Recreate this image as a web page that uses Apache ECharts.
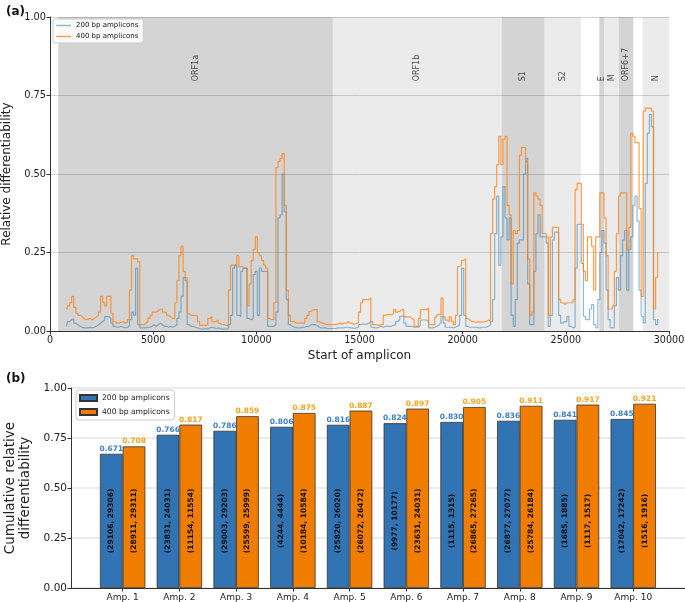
<!DOCTYPE html>
<html><head><meta charset="utf-8">
<script src="https://cdn.jsdelivr.net/npm/echarts@6/dist/echarts.min.js"></script>
<style>
html,body{margin:0;padding:0;background:#fff;}
#a{position:absolute;left:0;top:0;width:685px;height:362px;}
#b{position:absolute;left:0;top:360px;width:685px;height:242px;}
</style></head><body>
<div id="a"></div><div id="b"></div>
<script>
// ---------- panel (a) data ----------
const ampStart = [800,900,
1000,1100,1200,1300,1400,1500,1600,1700,1800,1900,
2000,2100,2200,2300,2400,2500,2600,2700,2800,2900,
3000,3100,3200,3300,3400,3500,3600,3700,3800,3900,
4000,4100,4200,4300,4400,4500,4600,4700,4800,4900,
5000,5100,5200,5300,5400,5500,5600,5700,5800,5900,
6000,6100,6200,6300,6400,6500,6600,6700,6800,6900,
7000,7100,7200,7300,7400,7500,7600,7700,7800,7900,
8000,8100,8200,8300,8400,8500,8600,8700,8800,8900,
9000,9100,9200,9300,9400,9500,9600,9700,9800,9900,
10000,10100,10200,10300,10400,10500,10600,10700,10800,10900,
11000,11100,11200,11300,11400,11500,11600,11700,11800,11900,
12000,12100,12200,12300,12400,12500,12600,12700,12800,12900,
13000,13100,13200,13300,13400,13500,13600,13700,13800,13900,
14000,14100,14200,14300,14400,14500,14600,14700,14800,14900,
15000,15100,15200,15300,15400,15500,15600,15700,15800,15900,
16000,16100,16200,16300,16400,16500,16600,16700,16800,16900,
17000,17100,17200,17300,17400,17500,17600,17700,17800,17900,
18000,18100,18200,18300,18400,18500,18600,18700,18800,18900,
19000,19100,19200,19300,19400,19500,19600,19700,19800,19900,
20000,20100,20200,20300,20400,20500,20600,20700,20800,20900,
21000,21100,21200,21300,21400,21500,21600,21700,21800,21900,
22000,22100,22200,22300,22400,22500,22600,22700,22800,22900,
23000,23100,23200,23300,23400,23500,23600,23700,23800,23900,
24000,24100,24200,24300,24400,24500,24600,24700,24800,24900,
25000,25100,25200,25300,25400,25500,25600,25700,25800,25900,
26000,26100,26200,26300,26400,26500,26600,26700,26800,26900,
27000,27100,27200,27300,27400,27500,27600,27700,27800,27900,
28000,28100,28200,28300,28400,28500,28600,28700,28800,28900,
29000,29100,29200,29300,29400,29500];

const diff200 = [.015,.03,
.036,.038,.025,.02,.015,.012,.01,.01,.01,.012,
.01,.012,.015,.02,.025,.03,.035,.046,.046,.04,
.025,.015,.012,.012,.015,.012,.01,.012,.015,.036,
.06,.05,.2,.02,.01,.01,.01,.012,.012,.015,
.02,.015,.02,.025,.02,.015,.015,.012,.015,.012,
.015,.02,.04,.06,.11,.17,.16,.02,.015,.015,
.012,.01,.008,.006,.006,.008,.006,.01,.012,.01,
.008,.01,.008,.006,.006,.006,.008,.02,.05,.2,
.21,.05,.046,.19,.2,.2,.04,.036,.04,.18,
.19,.05,.2,.19,.19,.19,.015,.015,.015,.02,
.06,.36,.37,.5,.38,.1,.02,.015,.012,.01,
.01,.01,.012,.012,.015,.015,.02,.02,.02,.018,
.012,.01,.01,.01,.008,.008,.008,.008,.008,.01,
.01,.01,.01,.012,.012,.01,.01,.008,.01,.012,
.02,.022,.022,.022,.025,.03,.012,.01,.01,.012,
.015,.012,.015,.015,.015,.015,.018,.02,.03,.036,
.047,.047,.025,.015,.015,.015,.012,.012,.012,.018,
.035,.035,.035,.03,.01,.01,.012,.015,.02,.026,
.047,.025,.012,.012,.012,.01,.012,.015,.02,.05,
.2,.05,.015,.012,.012,.012,.012,.01,.01,.012,
.012,.012,.015,.02,.03,.1,.31,.43,.21,.3,
.46,.36,.29,.36,.05,.015,.1,.28,.29,.29,
.5,.55,.15,.02,.02,.19,.31,.37,.3,.3,
.3,.28,.015,.05,.29,.315,.315,.05,.025,.03,
.03,.047,.015,.01,.012,.2,.34,.34,.215,.047,
.036,.036,.07,.084,.02,.01,.1,.25,.32,.28,
.13,.036,.01,.01,.08,.17,.13,.24,.29,.32,
.13,.26,.3,.4,.43,.35,.13,.047,.026,.47,
.63,.69,.65,.036,.02,.036];

const diff400 = [.068,.08,
.09,.11,.075,.057,.05,.046,.04,.036,.038,.04,
.036,.04,.045,.05,.06,.11,.09,.08,.11,.11,
.057,.03,.025,.025,.028,.03,.025,.028,.036,.13,
.24,.23,.23,.22,.02,.02,.025,.03,.04,.05,
.06,.06,.065,.07,.07,.06,.057,.05,.045,.04,
.04,.09,.16,.24,.27,.19,.17,.055,.05,.05,
.05,.048,.03,.018,.02,.018,.02,.04,.046,.03,
.03,.035,.025,.02,.02,.018,.02,.13,.21,.21,
.21,.24,.205,.205,.2,.2,.08,.15,.225,.26,
.3,.25,.24,.225,.21,.2,.04,.036,.036,.09,
.52,.54,.55,.565,.4,.13,.05,.03,.03,.025,
.025,.025,.025,.025,.04,.05,.062,.068,.068,.068,
.03,.025,.025,.022,.02,.02,.02,.02,.02,.022,
.025,.022,.025,.025,.03,.025,.025,.02,.025,.025,
.06,.09,.1,.1,.1,.105,.03,.02,.02,.018,
.02,.02,.05,.052,.052,.052,.055,.068,.06,.063,
.068,.068,.045,.045,.045,.04,.035,.015,.015,.04,
.068,.068,.068,.073,.02,.02,.02,.045,.052,.052,
.105,.045,.035,.03,.045,.03,.02,.05,.205,.21,
.225,.23,.04,.035,.03,.03,.028,.03,.028,.028,
.03,.03,.035,.03,.31,.42,.46,.53,.62,.53,
.61,.62,.4,.37,.15,.32,.31,.32,.56,.585,
.585,.54,.23,.05,.06,.44,.43,.42,.4,.31,
.31,.3,.05,.3,.33,.33,.33,.1,.09,.085,
.09,.09,.09,.09,.1,.45,.47,.47,.34,.19,
.16,.3,.3,.27,.13,.3,.3,.44,.44,.36,
.24,.07,.07,.08,.19,.31,.43,.44,.44,.44,
.26,.33,.63,.62,.6,.6,.39,.11,.7,.71,
.71,.71,.7,.07,.17,.25];

const geneNames = ['ORF1a','ORF1b','S1','S2','E','M','ORF6+7','N'];
const geneStart = [400,13700,21880,23960,26620,26850,27570,28720];
const geneEnd   = [13700,21850,23960,25730,26850,27570,28270,30000];
const geneLabelY = 0.795;

// ---------- panel (b) data ----------
const ampNames = ['Amp. 1','Amp. 2','Amp. 3','Amp. 4','Amp. 5','Amp. 6','Amp. 7','Amp. 8','Amp. 9','Amp. 10'];
const cum200 = [0.671,0.766,0.786,0.806,0.816,0.824,0.830,0.836,0.841,0.845];
const cum400 = [0.708,0.817,0.859,0.875,0.887,0.897,0.905,0.911,0.917,0.921];
const range200 = ['(29106, 29306)','(23831, 24031)','(29003, 29203)','(4244, 4444)','(25820, 26020)','(9977, 10177)','(1115, 1315)','(26877, 27077)','(1685, 1885)','(17042, 17242)'];
const range400 = ['(28911, 29311)','(11154, 11554)','(25599, 25999)','(10184, 10584)','(26072, 26472)','(23631, 24031)','(26865, 27265)','(25784, 26184)','(1117, 1517)','(1516, 1916)'];
const rangeLabelY = 0.3355;

const FONT = 'DejaVu Sans';
const BLUE_L = 'rgba(31,119,180,0.5)';
const ORANGE_L = 'rgba(255,127,14,0.75)';

// ---------- chart (a) ----------
const ca = echarts.init(document.getElementById('a'));
ca.setOption({
  animation:false,
  textStyle:{fontFamily:FONT},
  title:{text:'(a)',left:1,top:1,textStyle:{fontSize:12,fontWeight:'bold',color:'#111',fontFamily:FONT}},
  legend:{
    orient:'vertical',left:53,top:19,padding:[3,5,3,3],itemGap:4,icon:'rect',
    itemWidth:15,itemHeight:1.4,
    backgroundColor:'rgba(255,255,255,0.85)',borderColor:'#cccccc',borderWidth:1,borderRadius:2,
    textStyle:{fontSize:7,color:'#222',fontFamily:FONT},
    data:['200 bp amplicons','400 bp amplicons']
  },
  grid:{left:50,top:17,width:619,height:314,outerBoundsMode:'none',containLabel:false},
  xAxis:{type:'value',min:0,max:30000,interval:5000,
    name:'Start of amplicon',nameLocation:'middle',nameGap:17,
    nameTextStyle:{fontSize:12,color:'#222',fontFamily:FONT},
    axisLine:{show:true,lineStyle:{color:'#333',width:1}},
    axisTick:{show:true,length:3.5,lineStyle:{color:'#333'}},
    axisLabel:{fontSize:9.6,color:'#222',margin:4,fontFamily:FONT,formatter:v=>String(v)},
    splitLine:{show:false}},
  yAxis:{type:'value',min:0,max:1,interval:0.25,
    name:'Relative differentiability',nameLocation:'middle',nameGap:29,
    nameTextStyle:{fontSize:12,color:'#222',fontFamily:FONT},
    axisLine:{show:true,lineStyle:{color:'#333',width:1}},
    axisTick:{show:true,length:3.5,lineStyle:{color:'#333'}},
    axisLabel:{fontSize:9.8,color:'#222',margin:4,fontFamily:FONT,formatter:v=>v.toFixed(2)},
    splitLine:{show:true,lineStyle:{color:'#d6d6d6',width:1}}},
  series:[
    {type:'scatter',z:1,silent:true,symbolSize:1,itemStyle:{color:'rgba(0,0,0,0)'},
     data:geneNames.map((g,i)=>({name:g,value:[(geneStart[i]+geneEnd[i])/2,geneLabelY]})),
     label:{show:true,position:'inside',rotate:90,align:'left',verticalAlign:'middle',
       formatter:p=>p.name,fontSize:8,color:'#222',fontFamily:FONT},
     markArea:{silent:true,
       data:geneNames.map((g,i)=>[{xAxis:geneStart[i],itemStyle:{color:i%2===0?'rgba(0,0,0,0.17)':'rgba(0,0,0,0.08)'}},{xAxis:geneEnd[i]}])}
    },
    {name:'200 bp amplicons',type:'line',z:3,symbol:'none',showSymbol:false,step:'middle',
     data:ampStart.map((x,i)=>[x,diff200[i]]),
     lineStyle:{color:BLUE_L,width:1.2},itemStyle:{color:BLUE_L}},
    {name:'400 bp amplicons',type:'line',z:4,symbol:'none',showSymbol:false,step:'middle',
     data:ampStart.map((x,i)=>[x,diff400[i]]),
     lineStyle:{color:ORANGE_L,width:1.2},itemStyle:{color:ORANGE_L}}
  ]
});

// ---------- chart (b) ----------
const cb = echarts.init(document.getElementById('b'));
cb.setOption({
  animation:false,
  textStyle:{fontFamily:FONT},
  title:{text:'(b)',left:1,top:8,textStyle:{fontSize:12,fontWeight:'bold',color:'#111',fontFamily:FONT}},
  legend:{
    orient:'vertical',left:76,top:30,padding:[4,5,4,3],itemGap:6,icon:'rect',
    itemWidth:17,itemHeight:6,
    backgroundColor:'#fff',borderColor:'#cccccc',borderWidth:1,borderRadius:3,
    textStyle:{fontSize:7.6,color:'#222',fontFamily:FONT},
    data:['200 bp amplicons','400 bp amplicons']
  },
  grid:[{left:71,right:0,top:28,height:200,outerBoundsMode:'none',containLabel:false},
        {left:94.3,width:567.3,top:28,height:200,outerBoundsMode:'none',containLabel:false}],
  xAxis:[
    {gridIndex:0,type:'value',min:0,max:1,
     axisLine:{show:true,onZero:false,lineStyle:{color:'#333',width:1}},
     axisTick:{show:false},axisLabel:{show:false},splitLine:{show:false}},
    {gridIndex:1,type:'category',data:ampNames,
     axisLine:{show:false},
     axisTick:{show:true,alignWithLabel:true,length:3.5,lineStyle:{color:'#333'}},
     axisLabel:{fontSize:9,color:'#222',margin:5,fontFamily:FONT}},
    {gridIndex:1,type:'category',data:ampNames,show:false}
  ],
  yAxis:[
    {gridIndex:0,type:'value',min:0,max:1,interval:0.25,
     name:'Cumulative relative\ndifferentiability',nameLocation:'middle',nameGap:33,
     nameTextStyle:{fontSize:13.5,lineHeight:15,color:'#222',fontFamily:FONT},
     axisLine:{show:true,lineStyle:{color:'#333',width:1}},
     axisTick:{show:true,length:3.5,lineStyle:{color:'#333'}},
     axisLabel:{fontSize:10.5,color:'#222',margin:4,fontFamily:FONT,formatter:v=>v.toFixed(2)},
     splitLine:{show:true,lineStyle:{color:'#e4e4e4',width:1.5}}},
    {gridIndex:1,type:'value',min:0,max:1,show:false}
  ],
  series:[
    {name:'200 bp amplicons',type:'bar',xAxisIndex:1,yAxisIndex:1,data:cum200,
     barWidth:'40%',barGap:'0%',
     itemStyle:{color:'#3274b3',borderColor:'#333',borderWidth:0.8},
     label:{show:true,position:'top',distance:1,formatter:p=>p.value.toFixed(3),
       fontSize:7.5,fontWeight:'bold',color:'#3d82c4',fontFamily:FONT}},
    {name:'400 bp amplicons',type:'bar',xAxisIndex:1,yAxisIndex:1,data:cum400,
     barWidth:'40%',barGap:'0%',
     itemStyle:{color:'#f07c00',borderColor:'#333',borderWidth:0.8},
     label:{show:true,position:'top',distance:1,formatter:p=>p.value.toFixed(3),
       fontSize:7.5,fontWeight:'bold',color:'#f5a41c',fontFamily:FONT}},
    {name:'range200',type:'bar',xAxisIndex:2,yAxisIndex:1,z:5,silent:true,
     data:ampNames.map(()=>rangeLabelY*2),barWidth:'40%',barGap:'0%',
     itemStyle:{color:'rgba(0,0,0,0)'},
     label:{show:true,position:'inside',rotate:90,formatter:p=>range200[p.dataIndex],
       fontSize:7.5,fontWeight:'bold',color:'#111',fontFamily:FONT}},
    {name:'range400',type:'bar',xAxisIndex:2,yAxisIndex:1,z:5,silent:true,
     data:ampNames.map(()=>rangeLabelY*2),barWidth:'40%',barGap:'0%',
     itemStyle:{color:'rgba(0,0,0,0)'},
     label:{show:true,position:'inside',rotate:90,formatter:p=>range400[p.dataIndex],
       fontSize:7.5,fontWeight:'bold',color:'#111',fontFamily:FONT}}
  ]
});
</script>
</body></html>
